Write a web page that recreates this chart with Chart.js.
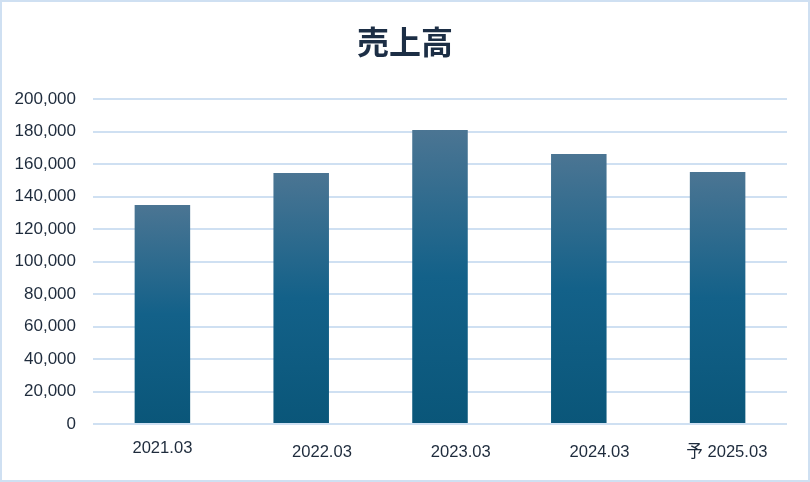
<!DOCTYPE html>
<html>
<head>
<meta charset="utf-8">
<script src="https://cdn.jsdelivr.net/npm/chart.js@4/dist/chart.umd.min.js"></script>
<style>
  html, body { margin: 0; padding: 0; background: #ffffff; }
  #wrap { width: 810px; height: 482px; box-sizing: border-box; border: 2px solid #cfe0f2; background: #fff; }
  canvas { display: block; }
</style>
</head>
<body>
<div id="wrap"><canvas id="c" width="806" height="478"></canvas></div>
<script>
const categories = ["2021.03", "2022.03", "2023.03", "2024.03", "予 2025.03"];
const sales = [134800, 154500, 180900, 166100, 155100];
const yTicks = [0, 20000, 40000, 60000, 80000, 100000, 120000, 140000, 160000, 180000, 200000];
const labelLeadPad = [0, 9, 9, 9, 4];

const TEXT = '#1e2b3c';
const FONT = "'Liberation Sans', Arial, 'Noto Sans CJK JP', sans-serif";

function barGradient(context) {
  const chart = context.chart;
  const area = chart.chartArea;
  if (!area || context.parsed === undefined) return '#14628a';
  const y = chart.scales.y;
  const top = y.getPixelForValue(context.parsed.y);
  const base = y.getPixelForValue(0);
  const g = chart.ctx.createLinearGradient(0, top, 0, base);
  g.addColorStop(0, '#4b7593');
  g.addColorStop(0.5, '#136189');
  g.addColorStop(1, '#0a5679');
  return g;
}

new Chart(document.getElementById('c'), {
  type: 'bar',
  data: {
    labels: categories,
    datasets: [{
      data: sales,
      backgroundColor: barGradient,
      borderWidth: 0,
      categoryPercentage: 1.0,
      barPercentage: 0.4
    }]
  },
  options: {
    responsive: false,
    animation: false,
    devicePixelRatio: 1,
    layout: { padding: { left: 0, right: 0, top: 0, bottom: 0 } },
    plugins: {
      legend: { display: false },
      tooltip: { enabled: false },
      title: {
        display: true,
        text: '売上高',
        color: '#1c2e45',
        font: { family: FONT, size: 32, weight: 'bold' },
        padding: { top: 24, bottom: 34.6 }
      }
    },
    scales: {
      x: {
        grid: { display: false, drawTicks: false },
        border: { display: false },
        ticks: {
          color: TEXT,
          padding: 18,
          maxRotation: 0,
          autoSkip: false,
          font: (ctx) => ({ family: FONT, size: 16.6, lineHeight: ctx.index === 0 ? 0.75 : 1.2 }),
          callback: function (value, index) {
            return ' '.repeat(labelLeadPad[index]) + categories[index];
          }
        },
        afterFit: (s) => { s.height = 56; }
      },
      y: {
        min: 0,
        max: 200000,
        afterBuildTicks: (s) => { s.ticks = yTicks.map(v => ({ value: v })); },
        grid: { color: '#cfe0f2', lineWidth: 2, drawTicks: false },
        border: { display: false },
        ticks: {
          color: TEXT,
          padding: 17,
          font: { family: FONT, size: 17 },
          callback: (v) => Number(v).toLocaleString('en-US')
        },
        afterFit: (s) => { s.width = 91; }
      },
      yRight: {
        position: 'right',
        display: true,
        min: 0,
        max: 200000,
        grid: { display: false, drawTicks: false },
        border: { display: false },
        ticks: { display: false },
        afterFit: (s) => { s.width = 21; }
      }
    }
  }
});
</script>
</body>
</html>
